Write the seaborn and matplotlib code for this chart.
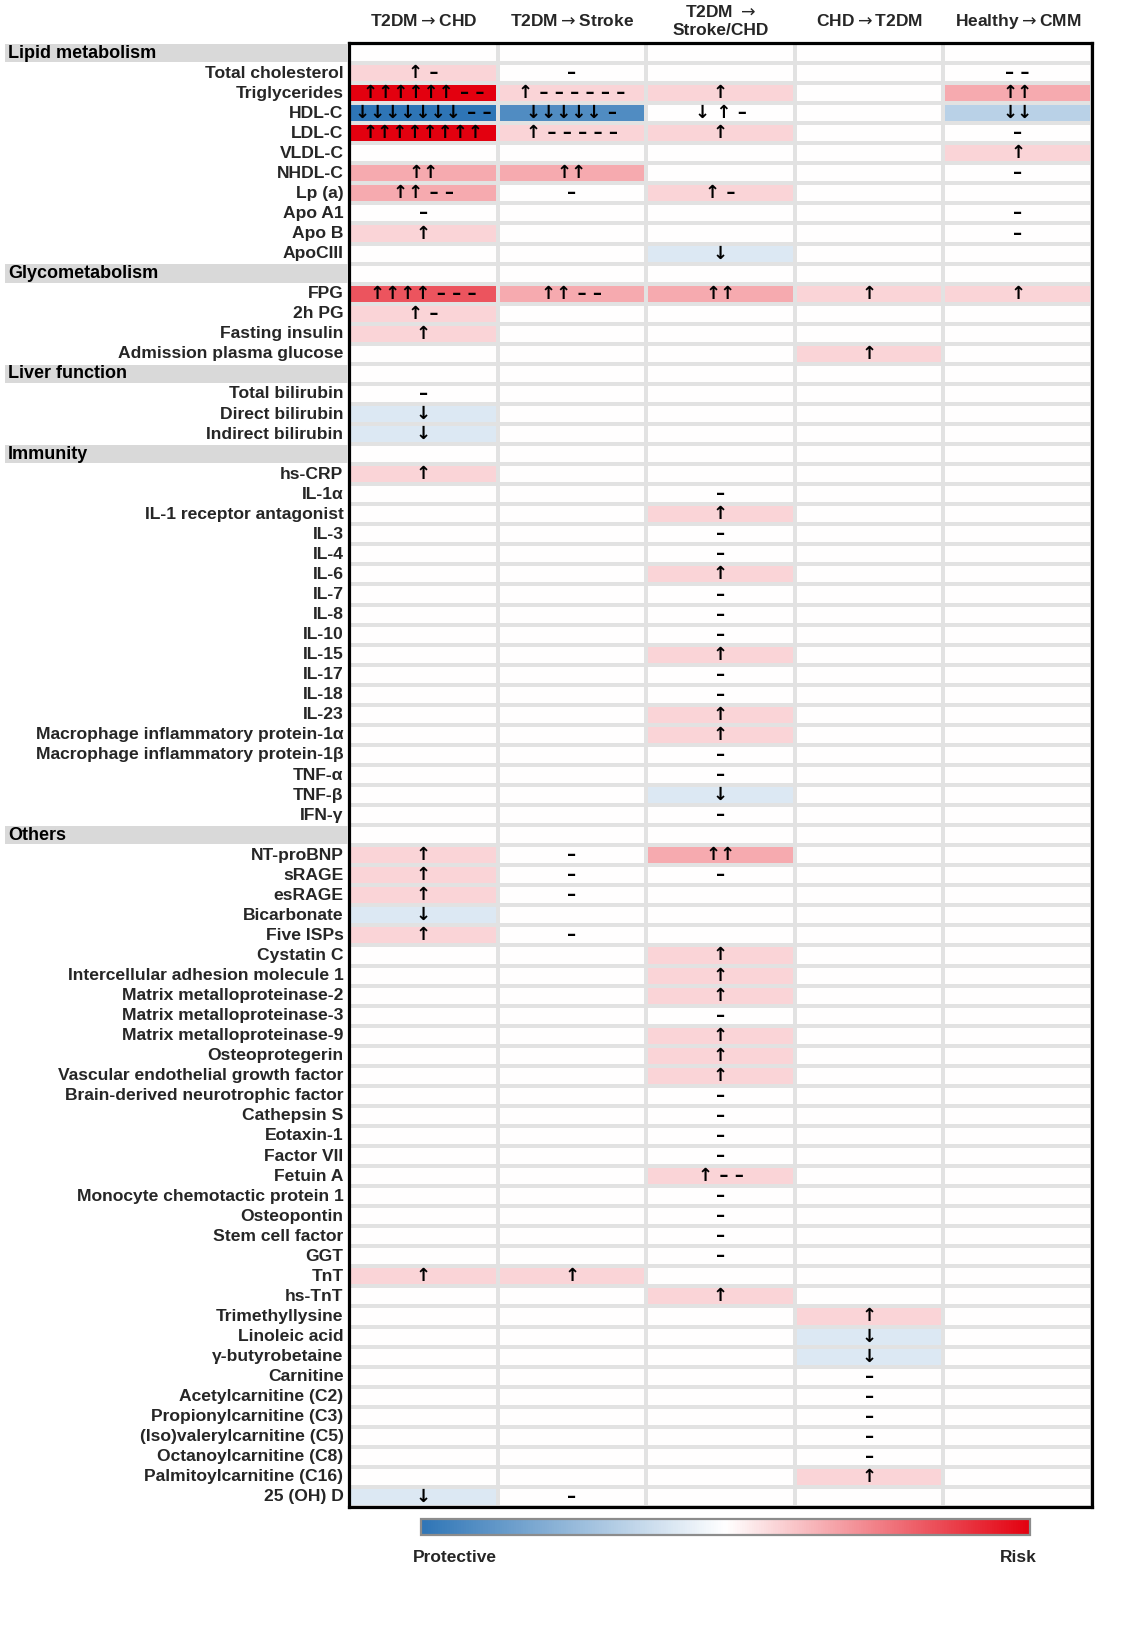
import numpy as np
import pandas as pd
import matplotlib
matplotlib.use("Agg")
import matplotlib.pyplot as plt
import seaborn as sns
from matplotlib.colors import LinearSegmentedColormap
from matplotlib.patches import Rectangle
from matplotlib.transforms import blended_transform_factory

# ---------------- data ----------------
columns = ["T2DM$\\rightarrow$CHD", "T2DM$\\rightarrow$Stroke",
           "T2DM $\\rightarrow$\nStroke/CHD", "CHD$\\rightarrow$T2DM",
           "Healthy$\\rightarrow$CMM"]

sections = ["Lipid metabolism", "Glycometabolism", "Liver function", "Immunity", "Others"]
lipid = ["Total cholesterol", "Triglycerides", "HDL-C", "LDL-C", "VLDL-C", "NHDL-C",
         "Lp (a)", "Apo A1", "Apo B", "ApoCIII"]
glyco = ["FPG", "2h PG", "Fasting insulin", "Admission plasma glucose"]
liver = ["Total bilirubin", "Direct bilirubin", "Indirect bilirubin"]
immunity = ["hs-CRP", "IL-1α", "IL-1 receptor antagonist", "IL-3", "IL-4", "IL-6", "IL-7",
            "IL-8", "IL-10", "IL-15", "IL-17", "IL-18", "IL-23",
            "Macrophage inflammatory protein-1α", "Macrophage inflammatory protein-1β",
            "TNF-α", "TNF-β", "IFN-γ"]
others = ["NT-proBNP", "sRAGE", "esRAGE", "Bicarbonate", "Five ISPs", "Cystatin C",
          "Intercellular adhesion molecule 1", "Matrix metalloproteinase-2",
          "Matrix metalloproteinase-3", "Matrix metalloproteinase-9", "Osteoprotegerin",
          "Vascular endothelial growth factor", "Brain-derived neurotrophic factor",
          "Cathepsin S", "Eotaxin-1", "Factor VII", "Fetuin A",
          "Monocyte chemotactic protein 1", "Osteopontin", "Stem cell factor", "GGT",
          "TnT", "hs-TnT", "Trimethyllysine", "Linoleic acid", "γ-butyrobetaine",
          "Carnitine", "Acetylcarnitine (C2)", "Propionylcarnitine (C3)",
          "(Iso)valerylcarnitine (C5)", "Octanoylcarnitine (C8)",
          "Palmitoylcarnitine (C16)", "25 (OH) D"]
groups = [lipid, glyco, liver, immunity, others]

# cell annotations (arrows / dashes) per column
text_t2dm_chd = {"Total cholesterol": "↑ –", "Triglycerides": "↑↑↑↑↑↑ – –",
                 "HDL-C": "↓↓↓↓↓↓↓ – –", "LDL-C": "↑↑↑↑↑↑↑↑", "NHDL-C": "↑↑",
                 "Lp (a)": "↑↑ – –", "Apo A1": "–", "Apo B": "↑", "FPG": "↑↑↑↑ – – –",
                 "2h PG": "↑ –", "Fasting insulin": "↑", "Total bilirubin": "–",
                 "Direct bilirubin": "↓", "Indirect bilirubin": "↓", "hs-CRP": "↑",
                 "NT-proBNP": "↑", "sRAGE": "↑", "esRAGE": "↑", "Bicarbonate": "↓",
                 "Five ISPs": "↑", "TnT": "↑", "25 (OH) D": "↓"}
text_t2dm_stroke = {"Total cholesterol": "–", "Triglycerides": "↑ – – – – – –",
                    "HDL-C": "↓↓↓↓↓ –", "LDL-C": "↑ – – – – –", "NHDL-C": "↑↑",
                    "Lp (a)": "–", "FPG": "↑↑ – –", "NT-proBNP": "–", "sRAGE": "–",
                    "esRAGE": "–", "Five ISPs": "–", "TnT": "↑", "25 (OH) D": "–"}
text_t2dm_both = {"Triglycerides": "↑", "HDL-C": "↓ ↑ –", "LDL-C": "↑", "Lp (a)": "↑ –",
                  "ApoCIII": "↓", "FPG": "↑↑", "IL-1α": "–", "IL-1 receptor antagonist": "↑",
                  "IL-3": "–", "IL-4": "–", "IL-6": "↑", "IL-7": "–", "IL-8": "–",
                  "IL-10": "–", "IL-15": "↑", "IL-17": "–", "IL-18": "–", "IL-23": "↑",
                  "Macrophage inflammatory protein-1α": "↑",
                  "Macrophage inflammatory protein-1β": "–", "TNF-α": "–", "TNF-β": "↓",
                  "IFN-γ": "–", "NT-proBNP": "↑↑", "sRAGE": "–", "Cystatin C": "↑",
                  "Intercellular adhesion molecule 1": "↑", "Matrix metalloproteinase-2": "↑",
                  "Matrix metalloproteinase-3": "–", "Matrix metalloproteinase-9": "↑",
                  "Osteoprotegerin": "↑", "Vascular endothelial growth factor": "↑",
                  "Brain-derived neurotrophic factor": "–", "Cathepsin S": "–",
                  "Eotaxin-1": "–", "Factor VII": "–", "Fetuin A": "↑ – –",
                  "Monocyte chemotactic protein 1": "–", "Osteopontin": "–",
                  "Stem cell factor": "–", "GGT": "–", "hs-TnT": "↑"}
text_chd_t2dm = {"FPG": "↑", "Admission plasma glucose": "↑", "Trimethyllysine": "↑",
                 "Linoleic acid": "↓", "γ-butyrobetaine": "↓", "Carnitine": "–",
                 "Acetylcarnitine (C2)": "–", "Propionylcarnitine (C3)": "–",
                 "(Iso)valerylcarnitine (C5)": "–", "Octanoylcarnitine (C8)": "–",
                 "Palmitoylcarnitine (C16)": "↑"}
text_healthy_cmm = {"Total cholesterol": "– –", "Triglycerides": "↑↑", "HDL-C": "↓↓",
                    "LDL-C": "–", "VLDL-C": "↑", "NHDL-C": "–", "Apo A1": "–",
                    "Apo B": "–", "FPG": "↑"}

# colour values (risk > 0, protective < 0) per column
val_t2dm_chd = {"Total cholesterol": 1, "Triglycerides": 6, "HDL-C": -7, "LDL-C": 8,
                "NHDL-C": 2, "Lp (a)": 2, "Apo B": 1, "FPG": 4, "2h PG": 1,
                "Fasting insulin": 1, "Direct bilirubin": -1, "Indirect bilirubin": -1,
                "hs-CRP": 1, "NT-proBNP": 1, "sRAGE": 1, "esRAGE": 1, "Bicarbonate": -1,
                "Five ISPs": 1, "TnT": 1, "25 (OH) D": -1}
val_t2dm_stroke = {"Triglycerides": 1, "HDL-C": -5, "LDL-C": 1, "NHDL-C": 2, "FPG": 2,
                   "TnT": 1}
val_t2dm_both = {"Triglycerides": 1, "LDL-C": 1, "Lp (a)": 1, "ApoCIII": -1, "FPG": 2,
                 "IL-1 receptor antagonist": 1, "IL-6": 1, "IL-15": 1, "IL-23": 1,
                 "Macrophage inflammatory protein-1α": 1, "TNF-β": -1, "NT-proBNP": 2,
                 "Cystatin C": 1, "Intercellular adhesion molecule 1": 1,
                 "Matrix metalloproteinase-2": 1, "Matrix metalloproteinase-9": 1,
                 "Osteoprotegerin": 1, "Vascular endothelial growth factor": 1,
                 "Fetuin A": 1, "hs-TnT": 1}
val_chd_t2dm = {"FPG": 1, "Admission plasma glucose": 1, "Trimethyllysine": 1,
                "Linoleic acid": -1, "γ-butyrobetaine": -1, "Palmitoylcarnitine (C16)": 1}
val_healthy_cmm = {"Triglycerides": 2, "HDL-C": -2, "VLDL-C": 1, "FPG": 1}

texts = [text_t2dm_chd, text_t2dm_stroke, text_t2dm_both, text_chd_t2dm, text_healthy_cmm]
vals = [val_t2dm_chd, val_t2dm_stroke, val_t2dm_both, val_chd_t2dm, val_healthy_cmm]

# ---------------- table ----------------
row_names, is_header = [], []
for sec, grp in zip(sections, groups):
    row_names.append(sec); is_header.append(True)
    for r in grp:
        row_names.append(r); is_header.append(False)

values = pd.DataFrame({c: [v.get(r, 0) for r in row_names] for c, v in zip(columns, vals)},
                      index=row_names)
annots = pd.DataFrame({c: [t.get(r, "") for r in row_names] for c, t in zip(columns, texts)},
                      index=row_names)
ylabels = ["" if h else r for r, h in zip(row_names, is_header)]

# ---------------- plot ----------------
sns.set_theme(style="white")
FAM = ["Liberation Sans", "DejaVu Sans"]
plt.rcParams["font.family"] = FAM
plt.rcParams["mathtext.fontset"] = "dejavusans"

W, H = 1146, 1637
fig = plt.figure(figsize=(W / 100, H / 100), dpi=100)
ax = fig.add_axes([349 / W, 1 - 1507 / H, (1092 - 349) / W, (1507 - 43) / H])
cax = fig.add_axes([421 / W, 1 - 1535 / H, 609 / W, 16 / H])

cmap = LinearSegmentedColormap.from_list("prot_risk", ["#2E75B6", "#FFFFFF", "#E3000F"])

sns.heatmap(values, ax=ax, cmap=cmap, vmin=-6, vmax=6, center=0,
            annot=annots.values, fmt="",
            annot_kws={"color": "black", "fontsize": 13, "fontweight": "bold",
                       "family": ["DejaVu Sans"]},
            linewidths=1.6, linecolor="#e2e2e2",
            cbar=True, cbar_ax=cax,
            cbar_kws={"orientation": "horizontal", "ticks": []},
            xticklabels=columns, yticklabels=ylabels)

# axes border
for s in ax.spines.values():
    s.set_visible(True)
    s.set_color("black")
    s.set_linewidth(2.3)

# column headers on top
ax.xaxis.tick_top()
ax.tick_params(axis="x", length=0, pad=15.5)
for lbl in ax.get_xticklabels():
    lbl.set_rotation(0)
    lbl.set_va("center")
    lbl.set_ha("center")
    lbl.set_fontweight("bold")
    lbl.set_fontsize(12.5)
    lbl.set_linespacing(1.25)

# row labels
ax.tick_params(axis="y", length=0, pad=4)
for lbl in ax.get_yticklabels():
    lbl.set_rotation(0)
    lbl.set_fontweight("bold")
    lbl.set_fontsize(12.6)
    lbl.set_ha("right")

# section header bands
trans = blended_transform_factory(fig.transFigure, ax.transData)
for i, (r, h) in enumerate(zip(row_names, is_header)):
    if h:
        fig.add_artist(Rectangle((5 / W, i + 0.04), (348 - 5) / W, 0.92,
                                 transform=trans, facecolor="#d9d9d9",
                                 edgecolor="none", clip_on=False))
        fig.add_artist(plt.Text(8 / W, i + 0.5, r, transform=trans, ha="left",
                                va="center", fontsize=13, fontweight="bold",
                                family=FAM, color="black"))

# colorbar styling
cb = ax.collections[0].colorbar
cb.outline.set_edgecolor("#8c8c8c")
cb.outline.set_linewidth(1.6)
cax.set_xticks([])
cax.set_yticks([])

fig.text(455 / W, 1 - 1557 / H, "Protective", ha="center", va="center",
         fontsize=12.5, fontweight="bold")
fig.text(1018 / W, 1 - 1557 / H, "Risk", ha="center", va="center",
         fontsize=12.5, fontweight="bold")

fig.savefig("out.png", dpi=100, facecolor="white")
